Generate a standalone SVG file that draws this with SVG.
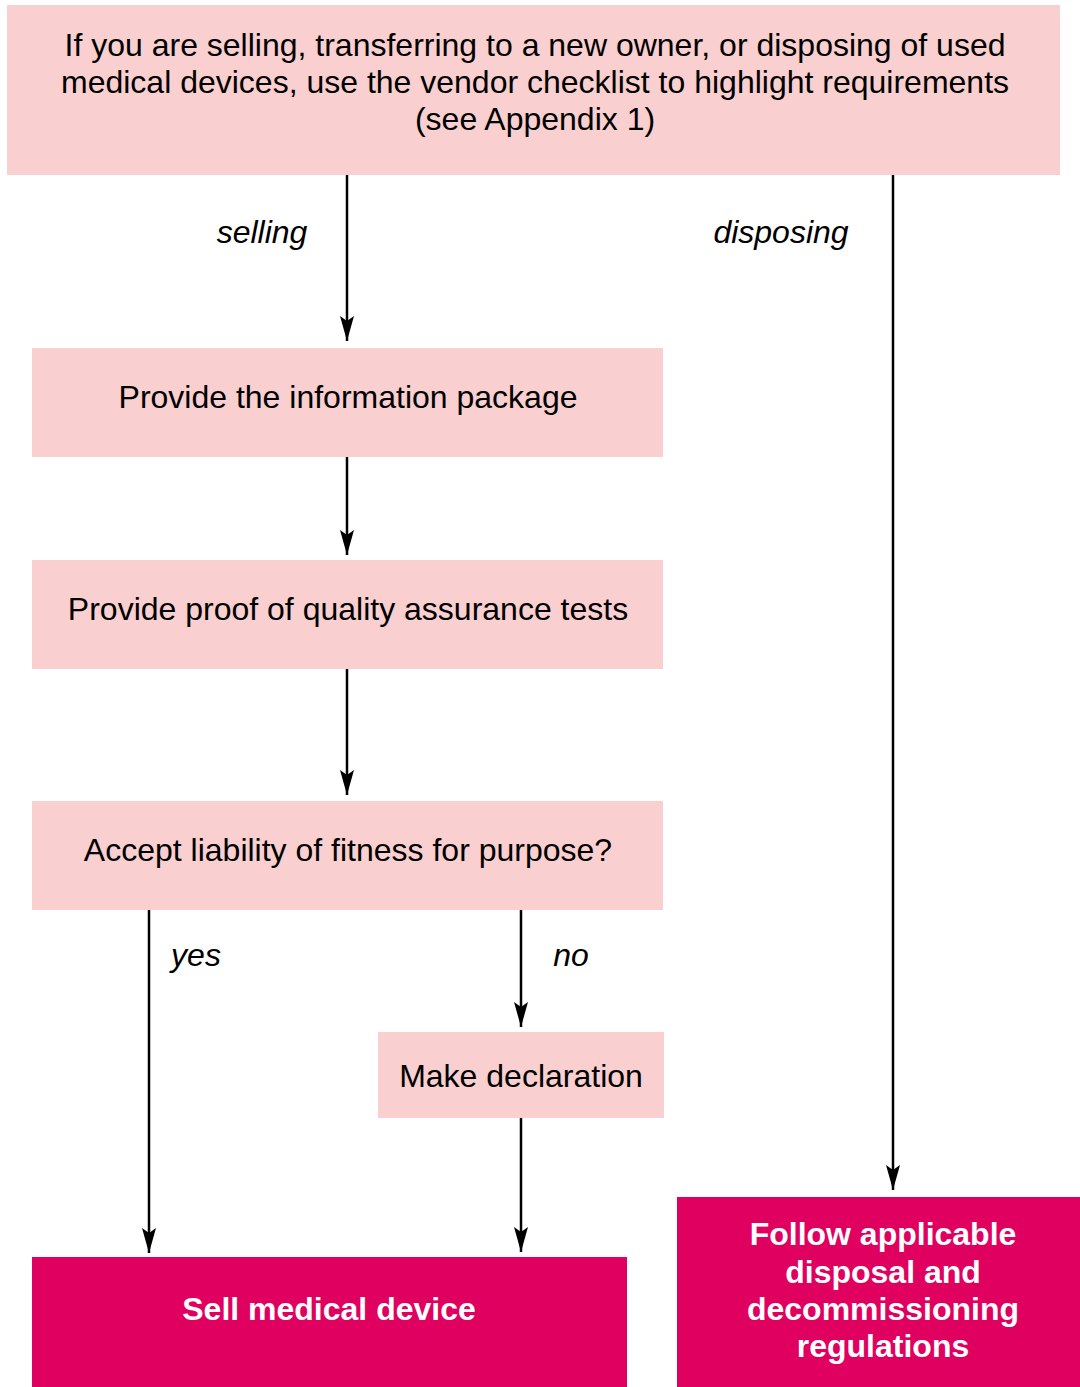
<svg xmlns="http://www.w3.org/2000/svg" width="1080" height="1387" viewBox="0 0 1080 1387">
<style>
.box{fill:#F9CFCF}
.term{fill:#E0005F}
.t{font-family:"Liberation Sans",Arial,sans-serif;font-size:32px;fill:#000;text-anchor:middle}
.tb{font-family:"Liberation Sans",Arial,sans-serif;font-size:32px;font-weight:bold;fill:#fff;text-anchor:middle}
.lbl{font-family:"Liberation Sans",Arial,sans-serif;font-size:32px;font-style:italic;fill:#000;text-anchor:middle}
.c{stroke:#000;stroke-width:2.5;fill:none;marker-end:url(#ah)}
</style>
<defs>
<marker id="ah" markerUnits="userSpaceOnUse" markerWidth="28" markerHeight="16" viewBox="-26 -8 28 16" refX="0" refY="0" orient="auto">
<path d="M0,0 L-25,-7 L-20,0 L-25,7 Z" fill="#000"/>
</marker>
</defs>
<rect width="1080" height="1387" fill="#fff"/>
<g id="connectors">
<line class="c" x1="347" y1="175" x2="347" y2="341"/>
<line class="c" x1="347" y1="457" x2="347" y2="555"/>
<line class="c" x1="347" y1="669" x2="347" y2="795"/>
<line class="c" x1="149" y1="910" x2="149" y2="1253"/>
<line class="c" x1="521" y1="910" x2="521" y2="1027"/>
<line class="c" x1="521" y1="1118" x2="521" y2="1252"/>
<line class="c" x1="893" y1="175" x2="893" y2="1190"/>
<text class="lbl" x="262" y="243">selling</text>
<text class="lbl" x="781" y="243">disposing</text>
<text class="lbl" x="196" y="966">yes</text>
<text class="lbl" x="571" y="966">no</text>
</g>
<g id="start">
<rect class="box" x="7" y="5" width="1053" height="170"/>
<text class="t" x="535" y="56">If you are selling, transferring to a new owner, or disposing of used</text>
<text class="t" x="535" y="93">medical devices, use the vendor checklist to highlight requirements</text>
<text class="t" x="535" y="130">(see Appendix 1)</text>
</g>
<g id="info">
<rect class="box" x="32" y="348" width="631" height="109"/>
<text class="t" x="348" y="408">Provide the information package</text>
</g>
<g id="proof">
<rect class="box" x="32" y="560" width="631" height="109"/>
<text class="t" x="348" y="620">Provide proof of quality assurance tests</text>
</g>
<g id="accept">
<rect class="box" x="32" y="801" width="631" height="109"/>
<text class="t" x="348" y="861">Accept liability of fitness for purpose?</text>
</g>
<g id="declare">
<rect class="box" x="378" y="1032" width="286" height="86"/>
<text class="t" x="521" y="1087">Make declaration</text>
</g>
<g id="sell">
<rect class="term" x="32" y="1257" width="595" height="130"/>
<text class="tb" x="329" y="1320">Sell medical device</text>
</g>
<g id="dispose">
<rect class="term" x="677" y="1197" width="403" height="190"/>
<text class="tb" x="883" y="1245">Follow applicable</text>
<text class="tb" x="883" y="1283">disposal and</text>
<text class="tb" x="883" y="1320">decommissioning</text>
<text class="tb" x="883" y="1357">regulations</text>
</g>
</svg>
